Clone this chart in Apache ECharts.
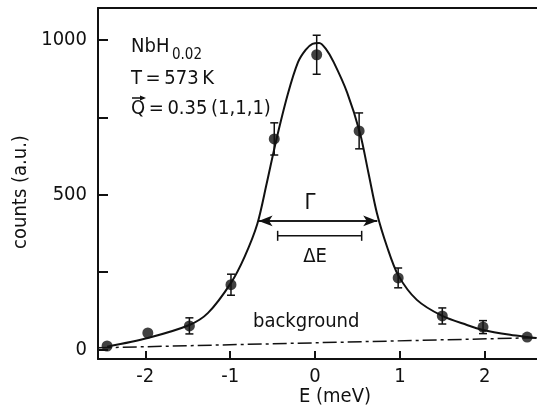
<!DOCTYPE html>
<html>
<head>
<meta charset="utf-8">
<script src="https://cdn.jsdelivr.net/npm/echarts@6/dist/echarts.min.js"></script>
<style>
  html, body { margin: 0; padding: 0; background: #fff; }
  #chart { width: 537px; height: 414px; }
</style>
</head>
<body>
<div id="chart"></div>
<script>
// measured points (E in meV, counts in a.u.)
var pointE = [-2.45, -1.97, -1.48, -0.99, -0.48, 0.02, 0.52, 0.98, 1.5, 1.98, 2.5];
var pointCounts = [11, 53, 76, 209, 680, 952, 706, 231, 108, 72, 40];
var pointErr = [0, 0, 26, 34, 52, 63, 58, 32, 26, 21, 0];

// fitted curve
var fitE = [-2.45, -1.97, -1.48, -1.26, -0.99, -0.83, -0.68, -0.57, -0.46, -0.32, -0.2, -0.11, -0.03, 0.05, 0.13, 0.22, 0.38, 0.53, 0.63, 0.73, 0.85, 0.98, 1.2, 1.5, 1.79, 1.98, 2.3, 2.5, 2.61];
var fitCounts = [9, 37, 79, 118, 215, 299, 405, 535, 672, 825, 928, 968, 987, 990, 970, 928, 829, 699, 570, 440, 331, 240, 160, 108, 79, 63, 47, 40, 37];

// background line
var bgE = [-2.56, 2.61];
var bgCounts = [5, 38];

// linewidth markers: Gamma arrow and Delta E resolution
var gammaE = [-0.665, 0.733];
var gammaY = 415;
var deltaE = [-0.44, 0.55];
var deltaY = 367;

var xTicks = [-2, -1, 0, 1, 2];
var yTicks = [0, 250, 500, 750, 1000];
var yLabels = [0, 500, 1000];

var font = "'DejaVu Sans Condensed', 'Liberation Sans Narrow', 'DejaVu Sans'";
var ink = '#111';

function zip(a, b) {
  var out = [];
  for (var i = 0; i < a.length; i++) out.push([a[i], b[i]]);
  return out;
}

var errData = [];
for (var i = 0; i < pointE.length; i++) {
  if (pointErr[i] > 0) errData.push([pointE[i], pointCounts[i] - pointErr[i], pointCounts[i] + pointErr[i]]);
}

var chart = echarts.init(document.getElementById('chart'));

var option = {
  backgroundColor: '#fff',
  animation: false,
  grid: { left: 98, right: 0, top: 8, bottom: 55 },
  xAxis: [{
    type: 'value',
    min: -2.557,
    max: 2.616,
    splitLine: { show: false },
    axisLine: { onZero: false, lineStyle: { color: ink, width: 2 } },
    axisTick: { inside: true, length: 8, customValues: xTicks, lineStyle: { color: ink, width: 2 } },
    axisLabel: { customValues: xTicks, margin: 8, color: ink, fontFamily: font, fontSize: 20 }
  }, {
    type: 'value',
    position: 'top',
    min: -2.557,
    max: 2.616,
    splitLine: { show: false },
    axisLine: { onZero: false, lineStyle: { color: ink, width: 2 } },
    axisTick: { show: false },
    axisLabel: { show: false }
  }],
  yAxis: {
    type: 'value',
    min: -31,
    max: 1103,
    splitLine: { show: false },
    axisLine: { onZero: false, lineStyle: { color: ink, width: 2 } },
    axisTick: { inside: true, length: 10, customValues: yTicks, lineStyle: { color: ink, width: 2 } },
    axisLabel: {
      customValues: yLabels, margin: 11, color: ink, fontFamily: font, fontSize: 20,
      formatter: function (v) { return String(v); }
    }
  },
  series: [
    {
      type: 'line',
      data: zip(bgE, bgCounts),
      showSymbol: false,
      lineStyle: { color: ink, width: 1.5, type: [14, 4, 3, 4] }
    },
    {
      type: 'line',
      data: zip(fitE, fitCounts),
      showSymbol: false,
      smooth: 0.3,
      lineStyle: { color: ink, width: 2 }
    },
    {
      type: 'custom',
      data: errData,
      renderItem: function (params, api) {
        var top = api.coord([api.value(0), api.value(2)]);
        var bot = api.coord([api.value(0), api.value(1)]);
        var w = 4;
        var st = { stroke: ink, lineWidth: 1.5 };
        return {
          type: 'group',
          children: [
            { type: 'line', shape: { x1: top[0], y1: top[1], x2: bot[0], y2: bot[1] }, style: st },
            { type: 'line', shape: { x1: top[0] - w, y1: top[1], x2: top[0] + w, y2: top[1] }, style: st },
            { type: 'line', shape: { x1: bot[0] - w, y1: bot[1], x2: bot[0] + w, y2: bot[1] }, style: st }
          ]
        };
      }
    },
    {
      type: 'scatter',
      data: zip(pointE, pointCounts),
      symbolSize: 11,
      itemStyle: { color: ink }
    },
    {
      type: 'custom',
      data: [[deltaE[0], deltaE[1], deltaY]],
      renderItem: function (params, api) {
        var a = api.coord([api.value(0), api.value(2)]);
        var b = api.coord([api.value(1), api.value(2)]);
        var st = { stroke: ink, lineWidth: 1.5 };
        return {
          type: 'group',
          children: [
            { type: 'line', shape: { x1: a[0], y1: a[1], x2: b[0], y2: b[1] }, style: st },
            { type: 'line', shape: { x1: a[0], y1: a[1] - 5, x2: a[0], y2: a[1] + 5 }, style: st },
            { type: 'line', shape: { x1: b[0], y1: b[1] - 5, x2: b[0], y2: b[1] + 5 }, style: st }
          ]
        };
      }
    },
    {
      type: 'line',
      data: [[gammaE[0], gammaY], [gammaE[1], gammaY]],
      showSymbol: false,
      lineStyle: { color: ink, width: 1.5 },
      markLine: {
        silent: true,
        symbol: ['arrow', 'arrow'],
        symbolSize: [8, 14],
        label: { show: false },
        lineStyle: { color: ink, width: 1.5, type: 'solid' },
        data: [[{ coord: [gammaE[0], gammaY] }, { coord: [gammaE[1], gammaY] }]]
      }
    }
  ],
  graphic: [
    { type: 'text', left: 131, top: 37, style: { text: 'NbH', fontFamily: font, fontSize: 20, fill: ink } },
    { type: 'text', left: 172, top: 48, style: { text: '0.02', fontFamily: font, fontSize: 15, fill: ink } },
    { type: 'text', left: 131, top: 69, style: { text: 'T\u2009=\u2009573\u2009K', fontFamily: font, fontSize: 20, fill: ink } },
    { type: 'text', left: 131, top: 99, style: { text: 'Q\u2009=\u20090.35\u2009(1,1,1)', fontFamily: font, fontSize: 20, fill: ink } },
    { type: 'line', shape: { x1: 132, y1: 98, x2: 144, y2: 98 }, style: { stroke: ink, lineWidth: 1.5 } },
    { type: 'polygon', shape: { points: [[146, 98], [140, 95.5], [140, 100.5]] }, style: { fill: ink } },
    { type: 'text', x: 310, y: 203, style: { text: 'Γ', fontFamily: font, fontSize: 22, fill: ink, align: 'center', verticalAlign: 'middle' } },
    { type: 'text', x: 315, y: 257, style: { text: 'ΔE', fontFamily: font, fontSize: 20, fill: ink, align: 'center', verticalAlign: 'middle' } },
    { type: 'text', x: 253, y: 322, style: { text: 'background', fontFamily: font, fontSize: 20, fill: ink, align: 'left', verticalAlign: 'middle' } },
    { type: 'text', x: 335, y: 397, style: { text: 'E (meV)', fontFamily: font, fontSize: 20, fill: ink, align: 'center', verticalAlign: 'middle' } },
    { type: 'text', x: 21, y: 192, rotation: Math.PI / 2, style: { text: 'counts (a.u.)', fontFamily: font, fontSize: 20, fill: ink, align: 'center', verticalAlign: 'middle' } }
  ]
};

chart.setOption(option);
</script>
</body>
</html>
